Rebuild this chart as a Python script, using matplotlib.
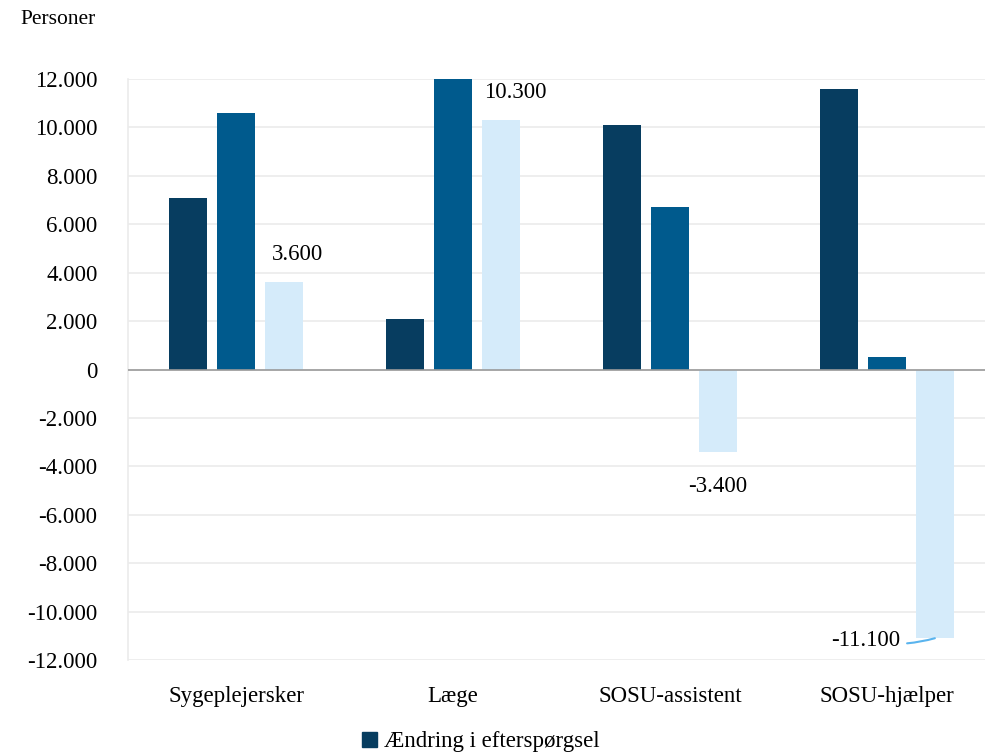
import matplotlib
matplotlib.use("Agg")
import matplotlib.pyplot as plt
from matplotlib.patches import Patch
import numpy as np

# Data
categories = ["Sygeplejersker", "Læge", "SOSU-assistent", "SOSU-hjælper"]
demand_change = [7100, 2100, 10100, 11600]
supply_change = [10600, 12000, 6700, 500]
balance = [3600, 10300, -3400, -11100]
legend_label = "Ændring i efterspørgsel"
y_ticks = list(range(-12000, 12001, 2000))

dark = "#073d60"
mid = "#005a8d"
light = "#d5ebfa"

plt.rcParams["font.family"] = ["Liberation Serif", "DejaVu Serif"]
FS = 16.5


def dk(v):
    s = f"{abs(v):,}".replace(",", ".")
    return ("-" if v < 0 else "") + s


W, H = 985, 754
fig = plt.figure(figsize=(W / 100, H / 100), dpi=100)
ax = fig.add_axes([128 / W, (H - 660) / H, (985 - 128) / W, (660 - 79) / H])

x = np.arange(len(categories))
bw = 0.175
off = 0.221
ax.bar(x - off, demand_change, bw, color=dark, zorder=3)
ax.bar(x, supply_change, bw, color=mid, zorder=3)
ax.bar(x + off, balance, bw, color=light, zorder=3)

ax.set_xlim(-0.498, 3.452)
ax.set_ylim(-12000, 12000)
ax.set_yticks(y_ticks)
ax.set_yticklabels([dk(v) for v in y_ticks], fontsize=FS)
ax.set_xticks(x)
ax.set_xticklabels(categories, fontsize=FS)
ax.tick_params(axis="y", length=0, pad=22)
ax.tick_params(axis="x", length=0, pad=19)

ax.grid(axis="y", color="#ebebeb", linewidth=1.2, zorder=0)
ax.axhline(0, color="#9a9a9a", linewidth=1.2, zorder=4)
for s in ["top", "right", "bottom"]:
    ax.spines[s].set_visible(False)
ax.spines["left"].set_color("#ebebeb")
ax.spines["left"].set_linewidth(1.2)

# Value labels on the balance series
for i, v in enumerate(balance):
    xb = x[i] + off
    if v > 0:
        ax.annotate(dk(v), (xb, v), xytext=(10, 20), textcoords="offset points",
                    ha="center", va="center", fontsize=FS)
    elif v > -8000:
        ax.annotate(dk(v), (xb, v), xytext=(0, -25), textcoords="offset points",
                    ha="center", va="center", fontsize=FS)
    else:
        ax.annotate(dk(v), (xb, v), xytext=(-25, -2), textcoords="offset points",
                    ha="right", va="center", fontsize=FS,
                    arrowprops=dict(arrowstyle="-", color="#5ab4ee", lw=1.5,
                                    shrinkA=3, shrinkB=0,
                                    connectionstyle="arc3,rad=0.12"))

fig.text(20 / W, 1 - 20 / H, "Personer", fontsize=FS - 1, va="center", ha="left")

fig.legend(handles=[Patch(color=dark, label=legend_label)],
           loc="center left", bbox_to_anchor=(362 / W, 1 - 742 / H),
           frameon=False, fontsize=FS, handlelength=0.65, handleheight=0.65,
           handletextpad=0.3, borderpad=0, borderaxespad=0)

fig.savefig("out.png", dpi=100)
